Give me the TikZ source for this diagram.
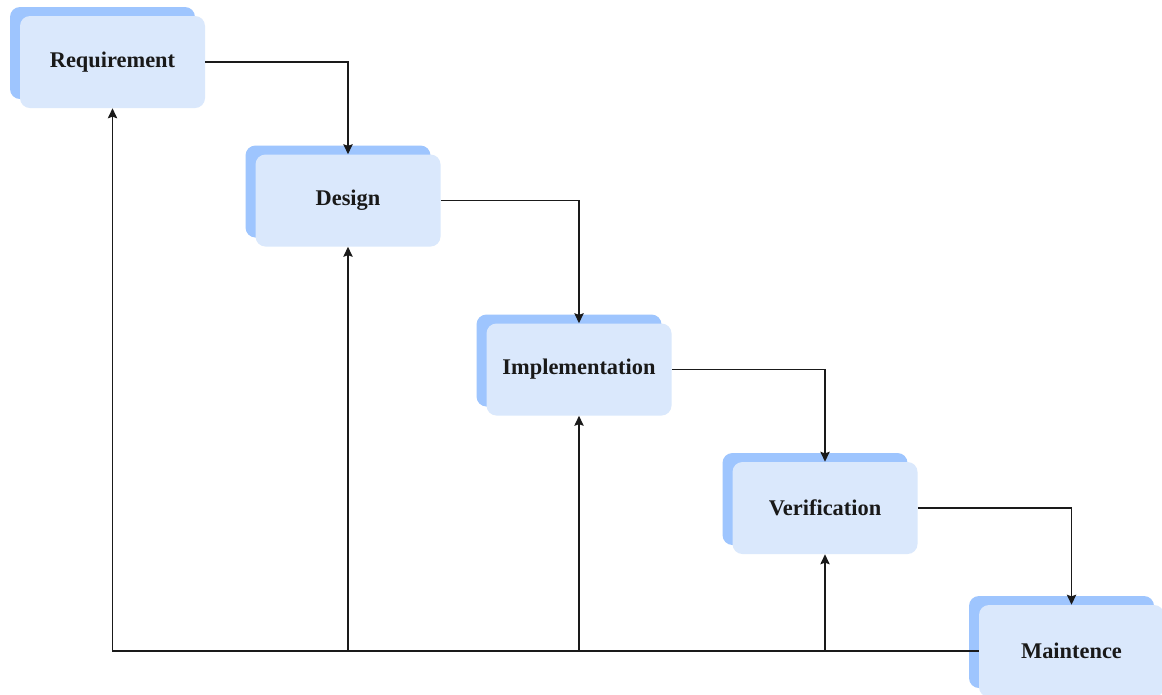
\documentclass[tikz,border=0pt]{standalone}
\usepackage{fontspec}
\setmainfont{Liberation Serif}
\usetikzlibrary{arrows.meta}
\definecolor{frontfill}{HTML}{DAE8FC}
\definecolor{backfill}{HTML}{9EC5FE}
\definecolor{linecol}{HTML}{1A1A1A}
\tikzset{
  stage/.style={rectangle, rounded corners=7.5pt, fill=frontfill, draw=none,
    minimum width=138.75pt, minimum height=69pt, inner sep=0pt,
    font=\fontsize{16.8}{19}\selectfont\bfseries, text=black!90},
  stageback/.style={rectangle, rounded corners=7.5pt, fill=backfill, draw=none,
    minimum width=138.75pt, minimum height=69pt, inner sep=0pt},
  flow/.style={draw=linecol, line width=1pt, -{Stealth[length=7.5pt,width=7pt,inset=1.2pt]}},
  plain/.style={draw=linecol, line width=1pt}
}
\begin{document}
\begin{tikzpicture}[x=0.75pt,y=-0.75pt]
\useasboundingbox (0,0) rectangle (1162,694);
\clip (0,0) rectangle (1162,694);
\fill[white] (0,0) rectangle (1162,694);
% back plates
\node[stageback] (reqB) at (102.5,53) {};
\node[stageback] (desB) at (338,191.5) {};
\node[stageback] (impB) at (569,360.5) {};
\node[stageback] (verB) at (815,499) {};
\node[stageback] (maiB) at (1061.5,642) {};
% front boxes
\node[stage] (req) at (112.5,62) {\raisebox{-1.5pt}{Requirement}};
\node[stage] (des) at (348,200.5) {\raisebox{-1.5pt}{Design}};
\node[stage] (imp) at (579,369.5) {\raisebox{-1.5pt}{Implementation}};
\node[stage] (ver) at (825,508) {\raisebox{-1.5pt}{Verification}};
\node[stage] (mai) at (1071.5,651) {\raisebox{-1.5pt}{Maintence}};
% forward flow
\draw[flow] (req.east) -| (des.north);
\draw[flow] (des.east) -| (imp.north);
\draw[flow] (imp.east) -| (ver.north);
\draw[flow] (ver.east) -| (mai.north);
% feedback
\draw[flow] (mai.west) -| (req.south);
\draw[flow] (des.south |- mai.west) -- (des.south);
\draw[flow] (imp.south |- mai.west) -- (imp.south);
\draw[flow] (ver.south |- mai.west) -- (ver.south);
\end{tikzpicture}
\end{document}
